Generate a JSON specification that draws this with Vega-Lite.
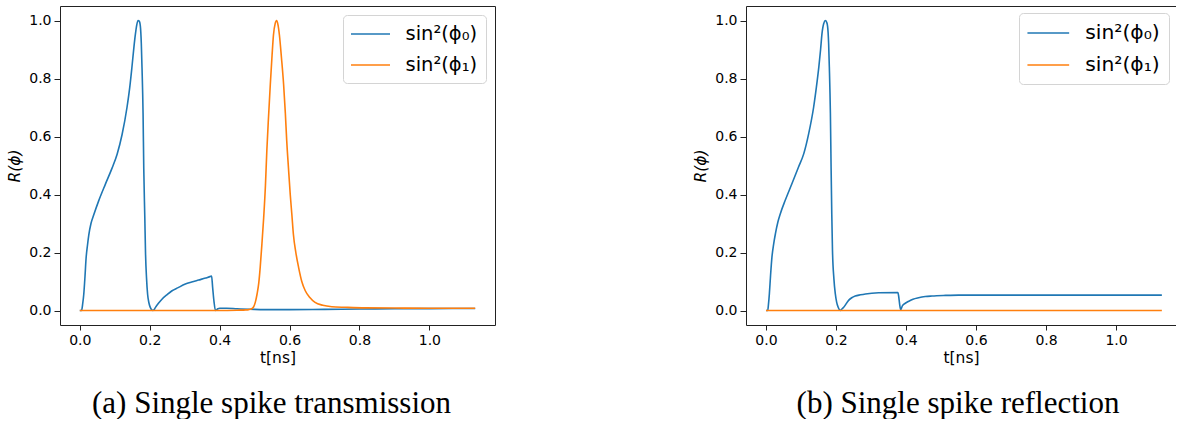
{
  "$schema": "https://vega.github.io/schema/vega-lite/v6.json",
  "padding": {"left": 7, "top": 5, "right": 0, "bottom": 0},
  "spacing": 197,
  "background": "white",
  "resolve": {"scale": {"color": "independent"}, "legend": {"color": "independent"}},
  "config": {
    "font": "DejaVu Sans",
    "axis": {
      "labelFont": "DejaVu Sans", "labelFontSize": 14, "labelColor": "#000",
      "titleFont": "DejaVu Sans", "titleFontSize": 15.5, "titleFontWeight": "normal", "titleColor": "#000",
      "tickColor": "#222", "grid": false, "domainColor": "#222", "labelPadding": 3
    },
    "legend": {
      "orient": "top-right", "offset": 9, "title": null,
      "labelFont": "DejaVu Sans", "labelFontSize": 19.5, "labelColor": "#000", "labelLimit": 0,
      "symbolType": "M-2,0L2,0", "symbolSize": 380, "symbolStrokeWidth": 1.6,
      "symbolOffset": 8.5, "labelOffset": 24, "rowPadding": 10, "padding": 8,
      "strokeColor": "#d4d4d4", "fillColor": "#ffffff", "cornerRadius": 4
    },
    "title": {"font": "Liberation Serif", "fontSize": 31, "fontWeight": "normal", "color": "#000"}
  },
  "datasets": {
    "transmission": [
      {"series": "sin²(ϕ₀)", "t": 0, "R": 0},
      {"series": "sin²(ϕ₀)", "t": 0.005, "R": 0},
      {"series": "sin²(ϕ₀)", "t": 0.008, "R": 0.02},
      {"series": "sin²(ϕ₀)", "t": 0.0114, "R": 0.056},
      {"series": "sin²(ϕ₀)", "t": 0.015, "R": 0.12},
      {"series": "sin²(ϕ₀)", "t": 0.018, "R": 0.18},
      {"series": "sin²(ϕ₀)", "t": 0.022, "R": 0.225},
      {"series": "sin²(ϕ₀)", "t": 0.0257, "R": 0.26},
      {"series": "sin²(ϕ₀)", "t": 0.032, "R": 0.3},
      {"series": "sin²(ϕ₀)", "t": 0.04, "R": 0.33},
      {"series": "sin²(ϕ₀)", "t": 0.054, "R": 0.378},
      {"series": "sin²(ϕ₀)", "t": 0.073, "R": 0.435},
      {"series": "sin²(ϕ₀)", "t": 0.092, "R": 0.49},
      {"series": "sin²(ϕ₀)", "t": 0.107, "R": 0.54},
      {"series": "sin²(ϕ₀)", "t": 0.121, "R": 0.607},
      {"series": "sin²(ϕ₀)", "t": 0.135, "R": 0.7},
      {"series": "sin²(ϕ₀)", "t": 0.143, "R": 0.77},
      {"series": "sin²(ϕ₀)", "t": 0.149, "R": 0.837},
      {"series": "sin²(ϕ₀)", "t": 0.155, "R": 0.91},
      {"series": "sin²(ϕ₀)", "t": 0.159, "R": 0.952},
      {"series": "sin²(ϕ₀)", "t": 0.163, "R": 0.985},
      {"series": "sin²(ϕ₀)", "t": 0.1667, "R": 1.0},
      {"series": "sin²(ϕ₀)", "t": 0.17, "R": 0.998},
      {"series": "sin²(ϕ₀)", "t": 0.1733, "R": 0.98},
      {"series": "sin²(ϕ₀)", "t": 0.176, "R": 0.92},
      {"series": "sin²(ϕ₀)", "t": 0.178, "R": 0.837},
      {"series": "sin²(ϕ₀)", "t": 0.181, "R": 0.68},
      {"series": "sin²(ϕ₀)", "t": 0.183, "R": 0.49},
      {"series": "sin²(ϕ₀)", "t": 0.186, "R": 0.32},
      {"series": "sin²(ϕ₀)", "t": 0.188, "R": 0.2},
      {"series": "sin²(ϕ₀)", "t": 0.191, "R": 0.11},
      {"series": "sin²(ϕ₀)", "t": 0.194, "R": 0.056},
      {"series": "sin²(ϕ₀)", "t": 0.198, "R": 0.025},
      {"series": "sin²(ϕ₀)", "t": 0.202, "R": 0.01},
      {"series": "sin²(ϕ₀)", "t": 0.206, "R": 0.002},
      {"series": "sin²(ϕ₀)", "t": 0.209, "R": 0},
      {"series": "sin²(ϕ₀)", "t": 0.212, "R": 0.002},
      {"series": "sin²(ϕ₀)", "t": 0.216, "R": 0.01},
      {"series": "sin²(ϕ₀)", "t": 0.225, "R": 0.025},
      {"series": "sin²(ϕ₀)", "t": 0.235, "R": 0.039},
      {"series": "sin²(ϕ₀)", "t": 0.25, "R": 0.055},
      {"series": "sin²(ϕ₀)", "t": 0.264, "R": 0.068},
      {"series": "sin²(ϕ₀)", "t": 0.28, "R": 0.078},
      {"series": "sin²(ϕ₀)", "t": 0.302, "R": 0.091},
      {"series": "sin²(ϕ₀)", "t": 0.32, "R": 0.098},
      {"series": "sin²(ϕ₀)", "t": 0.34, "R": 0.105},
      {"series": "sin²(ϕ₀)", "t": 0.36, "R": 0.112},
      {"series": "sin²(ϕ₀)", "t": 0.375, "R": 0.118},
      {"series": "sin²(ϕ₀)", "t": 0.377, "R": 0.119},
      {"series": "sin²(ϕ₀)", "t": 0.38, "R": 0.08},
      {"series": "sin²(ϕ₀)", "t": 0.384, "R": 0.03},
      {"series": "sin²(ϕ₀)", "t": 0.388, "R": 0.0},
      {"series": "sin²(ϕ₀)", "t": 0.395, "R": 0.006},
      {"series": "sin²(ϕ₀)", "t": 0.4, "R": 0.008},
      {"series": "sin²(ϕ₀)", "t": 0.42, "R": 0.008},
      {"series": "sin²(ϕ₀)", "t": 0.45, "R": 0.006},
      {"series": "sin²(ϕ₀)", "t": 0.5, "R": 0.004},
      {"series": "sin²(ϕ₀)", "t": 0.55, "R": 0.003},
      {"series": "sin²(ϕ₀)", "t": 0.6, "R": 0.003},
      {"series": "sin²(ϕ₀)", "t": 0.7, "R": 0.004},
      {"series": "sin²(ϕ₀)", "t": 0.8, "R": 0.005},
      {"series": "sin²(ϕ₀)", "t": 0.9, "R": 0.006},
      {"series": "sin²(ϕ₀)", "t": 1.0, "R": 0.0065},
      {"series": "sin²(ϕ₀)", "t": 1.131, "R": 0.007},
      {"series": "sin²(ϕ₁)", "t": 0, "R": 0},
      {"series": "sin²(ϕ₁)", "t": 0.4, "R": 0},
      {"series": "sin²(ϕ₁)", "t": 0.45, "R": 0.001},
      {"series": "sin²(ϕ₁)", "t": 0.475, "R": 0.002},
      {"series": "sin²(ϕ₁)", "t": 0.483, "R": 0.003},
      {"series": "sin²(ϕ₁)", "t": 0.49, "R": 0.005},
      {"series": "sin²(ϕ₁)", "t": 0.497, "R": 0.012},
      {"series": "sin²(ϕ₁)", "t": 0.502, "R": 0.028},
      {"series": "sin²(ϕ₁)", "t": 0.507, "R": 0.056},
      {"series": "sin²(ϕ₁)", "t": 0.512, "R": 0.095},
      {"series": "sin²(ϕ₁)", "t": 0.516, "R": 0.148},
      {"series": "sin²(ϕ₁)", "t": 0.521, "R": 0.23},
      {"series": "sin²(ϕ₁)", "t": 0.526, "R": 0.32},
      {"series": "sin²(ϕ₁)", "t": 0.531, "R": 0.43},
      {"series": "sin²(ϕ₁)", "t": 0.535, "R": 0.55},
      {"series": "sin²(ϕ₁)", "t": 0.54, "R": 0.67},
      {"series": "sin²(ϕ₁)", "t": 0.545, "R": 0.78},
      {"series": "sin²(ϕ₁)", "t": 0.55, "R": 0.88},
      {"series": "sin²(ϕ₁)", "t": 0.554, "R": 0.95},
      {"series": "sin²(ϕ₁)", "t": 0.559, "R": 0.99},
      {"series": "sin²(ϕ₁)", "t": 0.563, "R": 1.0},
      {"series": "sin²(ϕ₁)", "t": 0.567, "R": 0.985},
      {"series": "sin²(ϕ₁)", "t": 0.571, "R": 0.95},
      {"series": "sin²(ϕ₁)", "t": 0.577, "R": 0.87},
      {"series": "sin²(ϕ₁)", "t": 0.583, "R": 0.78},
      {"series": "sin²(ϕ₁)", "t": 0.588, "R": 0.68},
      {"series": "sin²(ϕ₁)", "t": 0.592, "R": 0.584},
      {"series": "sin²(ϕ₁)", "t": 0.597, "R": 0.49},
      {"series": "sin²(ϕ₁)", "t": 0.602, "R": 0.4},
      {"series": "sin²(ϕ₁)", "t": 0.607, "R": 0.325},
      {"series": "sin²(ϕ₁)", "t": 0.611, "R": 0.263},
      {"series": "sin²(ϕ₁)", "t": 0.618, "R": 0.2},
      {"series": "sin²(ϕ₁)", "t": 0.626, "R": 0.148},
      {"series": "sin²(ϕ₁)", "t": 0.635, "R": 0.1},
      {"series": "sin²(ϕ₁)", "t": 0.645, "R": 0.068},
      {"series": "sin²(ϕ₁)", "t": 0.658, "R": 0.045},
      {"series": "sin²(ϕ₁)", "t": 0.673, "R": 0.028},
      {"series": "sin²(ϕ₁)", "t": 0.695, "R": 0.018},
      {"series": "sin²(ϕ₁)", "t": 0.721, "R": 0.013},
      {"series": "sin²(ϕ₁)", "t": 0.76, "R": 0.011},
      {"series": "sin²(ϕ₁)", "t": 0.816, "R": 0.009},
      {"series": "sin²(ϕ₁)", "t": 0.9, "R": 0.0085},
      {"series": "sin²(ϕ₁)", "t": 1.0, "R": 0.008},
      {"series": "sin²(ϕ₁)", "t": 1.131, "R": 0.008}
    ],
    "reflection": [
      {"series": "sin²(ϕ₀)", "t": 0, "R": 0},
      {"series": "sin²(ϕ₀)", "t": 0.005, "R": 0},
      {"series": "sin²(ϕ₀)", "t": 0.007, "R": 0.02},
      {"series": "sin²(ϕ₀)", "t": 0.0097, "R": 0.058},
      {"series": "sin²(ϕ₀)", "t": 0.013, "R": 0.12},
      {"series": "sin²(ϕ₀)", "t": 0.017, "R": 0.184},
      {"series": "sin²(ϕ₀)", "t": 0.022, "R": 0.23},
      {"series": "sin²(ϕ₀)", "t": 0.027, "R": 0.265},
      {"series": "sin²(ϕ₀)", "t": 0.034, "R": 0.305},
      {"series": "sin²(ϕ₀)", "t": 0.041, "R": 0.334},
      {"series": "sin²(ϕ₀)", "t": 0.055, "R": 0.38},
      {"series": "sin²(ϕ₀)", "t": 0.074, "R": 0.437},
      {"series": "sin²(ϕ₀)", "t": 0.093, "R": 0.495},
      {"series": "sin²(ϕ₀)", "t": 0.108, "R": 0.541},
      {"series": "sin²(ϕ₀)", "t": 0.122, "R": 0.61},
      {"series": "sin²(ϕ₀)", "t": 0.136, "R": 0.7},
      {"series": "sin²(ϕ₀)", "t": 0.144, "R": 0.77},
      {"series": "sin²(ϕ₀)", "t": 0.151, "R": 0.84},
      {"series": "sin²(ϕ₀)", "t": 0.156, "R": 0.9},
      {"series": "sin²(ϕ₀)", "t": 0.16, "R": 0.955},
      {"series": "sin²(ϕ₀)", "t": 0.165, "R": 0.99},
      {"series": "sin²(ϕ₀)", "t": 0.17, "R": 1.0},
      {"series": "sin²(ϕ₀)", "t": 0.173, "R": 0.995},
      {"series": "sin²(ϕ₀)", "t": 0.176, "R": 0.98},
      {"series": "sin²(ϕ₀)", "t": 0.179, "R": 0.92},
      {"series": "sin²(ϕ₀)", "t": 0.181, "R": 0.84},
      {"series": "sin²(ϕ₀)", "t": 0.184, "R": 0.68},
      {"series": "sin²(ϕ₀)", "t": 0.186, "R": 0.495},
      {"series": "sin²(ϕ₀)", "t": 0.188, "R": 0.33},
      {"series": "sin²(ϕ₀)", "t": 0.19, "R": 0.207},
      {"series": "sin²(ϕ₀)", "t": 0.194, "R": 0.11},
      {"series": "sin²(ϕ₀)", "t": 0.198, "R": 0.058},
      {"series": "sin²(ϕ₀)", "t": 0.202, "R": 0.028},
      {"series": "sin²(ϕ₀)", "t": 0.206, "R": 0.012},
      {"series": "sin²(ϕ₀)", "t": 0.2125, "R": 0},
      {"series": "sin²(ϕ₀)", "t": 0.216, "R": 0.004},
      {"series": "sin²(ϕ₀)", "t": 0.222, "R": 0.011},
      {"series": "sin²(ϕ₀)", "t": 0.236, "R": 0.035},
      {"series": "sin²(ϕ₀)", "t": 0.245, "R": 0.044},
      {"series": "sin²(ϕ₀)", "t": 0.255, "R": 0.05},
      {"series": "sin²(ϕ₀)", "t": 0.27, "R": 0.054},
      {"series": "sin²(ϕ₀)", "t": 0.284, "R": 0.057},
      {"series": "sin²(ϕ₀)", "t": 0.322, "R": 0.061},
      {"series": "sin²(ϕ₀)", "t": 0.377, "R": 0.062},
      {"series": "sin²(ϕ₀)", "t": 0.379, "R": 0.05},
      {"series": "sin²(ϕ₀)", "t": 0.382, "R": 0.02},
      {"series": "sin²(ϕ₀)", "t": 0.385, "R": 0.002},
      {"series": "sin²(ϕ₀)", "t": 0.387, "R": 0.008},
      {"series": "sin²(ϕ₀)", "t": 0.39, "R": 0.017},
      {"series": "sin²(ϕ₀)", "t": 0.398, "R": 0.025},
      {"series": "sin²(ϕ₀)", "t": 0.408, "R": 0.032},
      {"series": "sin²(ϕ₀)", "t": 0.42, "R": 0.039},
      {"series": "sin²(ϕ₀)", "t": 0.436, "R": 0.044},
      {"series": "sin²(ϕ₀)", "t": 0.455, "R": 0.048},
      {"series": "sin²(ϕ₀)", "t": 0.474, "R": 0.05},
      {"series": "sin²(ϕ₀)", "t": 0.513, "R": 0.052},
      {"series": "sin²(ϕ₀)", "t": 0.55, "R": 0.053},
      {"series": "sin²(ϕ₀)", "t": 0.6, "R": 0.053},
      {"series": "sin²(ϕ₀)", "t": 0.8, "R": 0.053},
      {"series": "sin²(ϕ₀)", "t": 1.0, "R": 0.053},
      {"series": "sin²(ϕ₀)", "t": 1.131, "R": 0.053},
      {"series": "sin²(ϕ₁)", "t": 0, "R": 0},
      {"series": "sin²(ϕ₁)", "t": 0.4, "R": 0},
      {"series": "sin²(ϕ₁)", "t": 0.8, "R": 0},
      {"series": "sin²(ϕ₁)", "t": 1.131, "R": 0}
    ]
  },
  "hconcat": [
    {
      "width": 435,
      "height": 319,
      "view": {"stroke": "#222", "strokeWidth": 1},
      "data": {"name": "transmission"},
      "title": {"text": "(a) Single spike transmission", "orient": "bottom", "anchor": "middle", "frame": "group", "dx": -6, "offset": 23},
      "mark": {"type": "line", "strokeWidth": 1.6, "interpolate": "monotone"},
      "encoding": {
        "x": {"field": "t", "type": "quantitative",
              "scale": {"domain": [-0.0566, 1.1877], "nice": false, "zero": false},
              "axis": {"values": [0, 0.2, 0.4, 0.6, 0.8, 1.0], "format": ".1f", "title": "t[ns]", "tickSize": 5, "labelPadding": 3, "titlePadding": 3, "domain": false}},
        "y": {"field": "R", "type": "quantitative",
              "scale": {"domain": [-0.05, 1.05], "nice": false, "zero": false},
              "axis": {"values": [0, 0.2, 0.4, 0.6, 0.8, 1.0], "format": ".1f", "title": "R(ϕ)", "titleFontStyle": "italic", "tickSize": 6, "labelPadding": 3, "titlePadding": 6, "domain": false}},
        "color": {"field": "series", "type": "nominal",
                  "scale": {"domain": ["sin²(ϕ₀)", "sin²(ϕ₁)"], "range": ["#1f77b4", "#ff7f0e"]},
                  "legend": {"orient": "top-right", "offset": 9}}
      }
    },
    {
      "width": 430,
      "height": 319,
      "view": {"stroke": null},
      "data": {"name": "reflection"},
      "title": {"text": "(b) Single spike reflection", "orient": "bottom", "anchor": "middle", "frame": "group", "dx": -3, "offset": 23},
      "layer": [
        {
          "mark": {"type": "line", "strokeWidth": 1.6, "interpolate": "monotone"},
          "encoding": {
            "x": {"field": "t", "type": "quantitative",
                  "scale": {"domain": [-0.0571, 1.1714], "nice": false, "zero": false},
                  "axis": {"values": [0, 0.2, 0.4, 0.6, 0.8, 1.0], "format": ".1f", "title": "t[ns]", "tickSize": 5, "labelPadding": 3, "titlePadding": 3, "domain": true, "domainColor": "#222"}},
            "y": {"field": "R", "type": "quantitative",
                  "scale": {"domain": [-0.05, 1.05], "nice": false, "zero": false},
                  "axis": {"values": [0, 0.2, 0.4, 0.6, 0.8, 1.0], "format": ".1f", "title": "R(ϕ)", "titleFontStyle": "italic", "tickSize": 6, "labelPadding": 3, "titlePadding": 6, "domain": true, "domainColor": "#222"}},
            "color": {"field": "series", "type": "nominal",
                      "scale": {"domain": ["sin²(ϕ₀)", "sin²(ϕ₁)"], "range": ["#1f77b4", "#ff7f0e"]},
                      "legend": {"orient": "top-right", "offset": 7, "labelFontSize": 20.3, "symbolSize": 435, "symbolOffset": 9.3, "labelOffset": 25.4, "padding": 8.5}}
          }
        },
        {
          "mark": {"type": "line", "opacity": 0},
          "encoding": {
            "x": {"field": "t", "type": "quantitative",
                  "axis": {"orient": "top", "labels": false, "ticks": false, "title": null, "domain": true, "domainColor": "#222"}},
            "y": {"field": "R", "type": "quantitative",
                  "axis": {"values": [0, 0.2, 0.4, 0.6, 0.8, 1.0], "format": ".1f", "title": "R(ϕ)", "titleFontStyle": "italic", "tickSize": 6, "labelPadding": 3, "titlePadding": 6, "domain": true, "domainColor": "#222"}},
            "detail": {"field": "series", "type": "nominal"}
          }
        }
      ],
      "resolve": {"axis": {"x": "independent"}}
    }
  ]
}
